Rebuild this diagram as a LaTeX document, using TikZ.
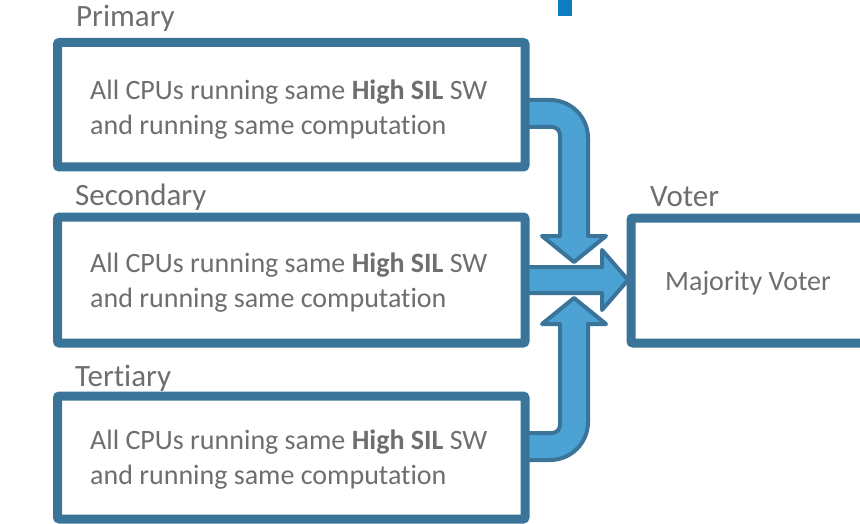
\documentclass[tikz,border=0pt]{standalone}
\usepackage{fontspec}
\setmainfont{Carlito}[Ligatures=NoCommon]
\definecolor{frameblue}{HTML}{3A7499}
\definecolor{arrowfill}{HTML}{4DA2D4}
\definecolor{markblue}{HTML}{0E7CC0}
\definecolor{textgray}{HTML}{6E6E6E}
\tikzset{
  unitbox/.style={draw=frameblue, line width=9pt, rounded corners=2pt},
  fatarrow/.style={fill=arrowfill, draw=frameblue, line width=4pt, line join=round},
  caption/.style={anchor=base west, inner sep=0pt, text=textgray, font=\fontsize{31}{36}\selectfont},
  bodyline/.style={anchor=base west, inner sep=0pt, text=textgray, font=\fontsize{28}{34}\selectfont},
}
\begin{document}
\begin{tikzpicture}[x=1pt, y=-1pt]
\useasboundingbox (0,0) rectangle (860,524);
\clip (0,0) rectangle (860,524);

% small mark at the top edge
\fill[markblue] (558,0) rectangle (572,16);

% bent arrow from the primary unit down into the voter input
\draw[fatarrow] (525,100) -- (550,100) arc[start angle=-90, end angle=0, radius=38]
  -- (588,236) -- (606,236) -- (574,262) -- (542,236) -- (560,236)
  -- (560,135) arc[start angle=0, end angle=-90, radius=8] -- (525,127) -- cycle;

% bent arrow from the tertiary unit up into the voter input
\draw[fatarrow] (525,460) -- (550,460) arc[start angle=90, end angle=0, radius=38]
  -- (588,324) -- (606,324) -- (574,298) -- (542,324) -- (560,324)
  -- (560,425) arc[start angle=0, end angle=90, radius=8] -- (525,433) -- cycle;

% straight arrow from the secondary unit to the voter
\draw[fatarrow] (525,267) -- (602,267) -- (602,250) -- (628,280) -- (602,310)
  -- (602,293) -- (525,293) -- cycle;

% redundant units
\draw[unitbox] (57.5,42.5) rectangle (525,167);
\draw[unitbox] (57.5,217) rectangle (525,343);
\draw[unitbox] (57.5,396) rectangle (525,519);

% voter box
\draw[unitbox] (631,218) rectangle (868,343);

% section captions
\node[caption] (capP) at (76,27) {Primary};
\node[caption] (capS) at (75,206) {Secondary};
\node[caption] (capT) at (75,386) {Tertiary};
\node[caption] (capV) at (650,207) {Voter};

% unit descriptions
\node[bodyline] (p1) at (90,100) {All CPUs running same \textbf{High SIL} SW};
\node[bodyline] (p2) at (90,135) {and running same computation};
\node[bodyline] (s1) at (90,272) {All CPUs running same \textbf{High SIL} SW};
\node[bodyline] (s2) at (90,307) {and running same computation};
\node[bodyline] (t1) at (90,449) {All CPUs running same \textbf{High SIL} SW};
\node[bodyline] (t2) at (90,484) {and running same computation};

\node[bodyline] (mv) at (665,290) {Majority Voter};
\end{tikzpicture}
\end{document}
